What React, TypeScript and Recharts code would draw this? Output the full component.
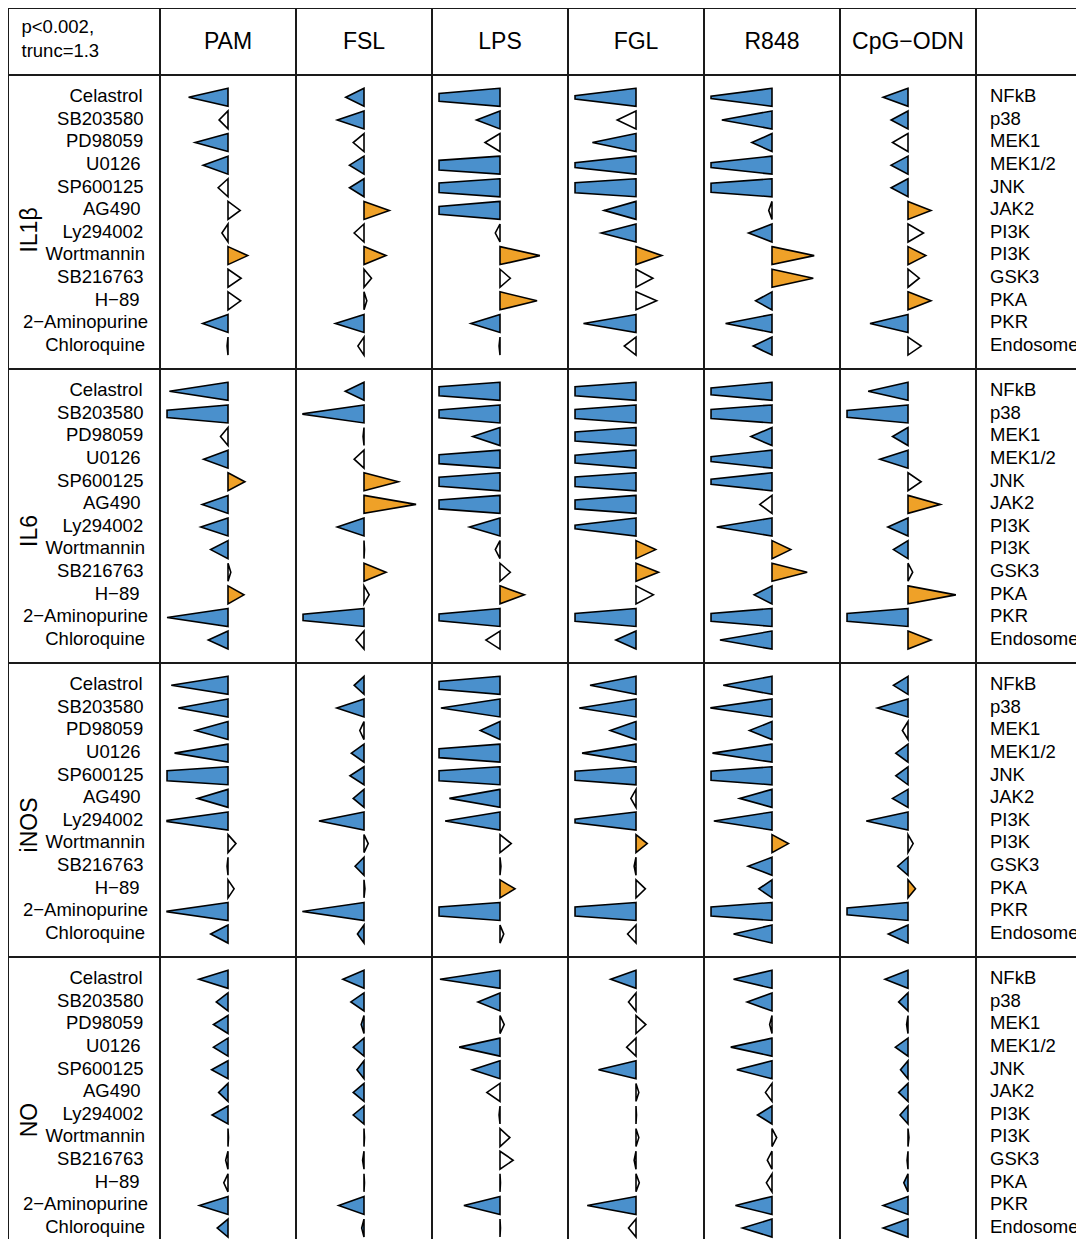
import { BarChart, Bar, XAxis, YAxis } from 'recharts'

const TRUNC = 1.3
const BLUE = '#4a90cc'
const ORANGE = '#efa128'
const LINE = '#1a1a1a'
const FONT = '"Liberation Sans", Arial, Helvetica, sans-serif'

const stimuli = ['PAM', 'FSL', 'LPS', 'FGL', 'R848', 'CpG\u2212ODN']
const readouts = ['IL1\u03b2', 'IL6', 'iNOS', 'NO']
const inhibitors = [
  'Celastrol', 'SB203580', 'PD98059', 'U0126', 'SP600125', 'AG490',
  'Ly294002', 'Wortmannin', 'SB216763', 'H\u221289', '2\u2212Aminopurine', 'Chloroquine',
]
const targets = ['NFkB', 'p38', 'MEK1', 'MEK1/2', 'JNK', 'JAK2', 'PI3K', 'PI3K', 'GSK3', 'PKA', 'PKR', 'Endosome']

// log fold change per stimulus (PAM, FSL, LPS, FGL, R848, CpG-ODN), one row per inhibitor
const il1bValues = [
  [-0.84, -0.19, -0.70, -0.53, -0.21, 0.26, -0.13, 0.42, 0.28, 0.27, -0.54, -0.02],
  [-0.39, -0.57, -0.23, -0.31, -0.31, 0.54, -0.21, 0.47, 0.16, 0.06, -0.61, -0.13],
  [-2.3, -0.50, -0.32, -2.8, -2.8, -2.3, -0.10, 0.85, 0.22, 0.79, -0.62, -0.02],
  [-1.6, -0.40, -0.93, -1.8, -3.0, -0.68, -0.74, 0.55, 0.36, 0.44, -1.12, -0.25],
  [-1.5, -1.07, -0.43, -1.8, -2.6, -0.07, -0.50, 0.90, 0.88, -0.35, -0.99, -0.40],
  [-0.53, -0.36, -0.33, -0.36, -0.36, 0.49, 0.33, 0.38, 0.24, 0.49, -0.81, 0.28],
]
const il1bSig = [
  [1, 0, 1, 1, 0, 0, 0, 1, 0, 0, 1, 0],
  [1, 1, 0, 1, 1, 1, 0, 1, 0, 0, 1, 0],
  [1, 1, 0, 1, 1, 1, 0, 1, 0, 1, 1, 0],
  [1, 0, 1, 1, 1, 1, 1, 1, 0, 0, 1, 0],
  [1, 1, 1, 1, 1, 0, 1, 1, 1, 1, 1, 1],
  [1, 1, 0, 1, 1, 1, 0, 1, 0, 1, 1, 0],
]

const il6Values = [
  [-1.25, -2.2, -0.16, -0.52, 0.36, -0.55, -0.58, -0.37, 0.06, 0.34, -1.30, -0.42],
  [-0.40, -1.35, -0.02, -0.21, 0.73, 1.11, -0.57, 0.01, 0.47, 0.11, -2.0, -0.17],
  [-2.6, -2.3, -0.58, -2.6, -2.6, -2.6, -0.65, -0.10, 0.22, 0.52, -2.1, -0.30],
  [-2.6, -2.6, -2.6, -2.3, -2.8, -2.6, -1.6, 0.42, 0.48, 0.37, -2.3, -0.43],
  [-2.1, -2.6, -0.45, -1.8, -1.8, -0.26, -1.18, 0.40, 0.75, -0.38, -2.3, -1.11],
  [-0.85, -2.1, -0.33, -0.60, 0.28, 0.69, -0.43, -0.31, 0.10, 1.02, -2.3, 0.49],
]
const il6Sig = [
  [1, 1, 0, 1, 1, 1, 1, 1, 0, 1, 1, 1],
  [1, 1, 0, 0, 1, 1, 1, 0, 1, 0, 1, 0],
  [1, 1, 1, 1, 1, 1, 1, 0, 0, 1, 1, 0],
  [1, 1, 1, 1, 1, 1, 1, 1, 1, 0, 1, 1],
  [1, 1, 1, 1, 1, 0, 1, 1, 1, 1, 1, 1],
  [1, 1, 1, 1, 0, 1, 1, 1, 0, 1, 1, 1],
]

const inosValues = [
  [-1.21, -1.06, -0.69, -1.14, -2.9, -0.65, -1.4, 0.17, -0.02, 0.13, -1.35, -0.37],
  [-0.21, -0.58, -0.09, -0.27, -0.30, -0.23, -0.96, 0.09, -0.19, 0.02, -1.32, -0.14],
  [-2.3, -1.26, -0.42, -2.6, -2.9, -1.08, -1.17, 0.24, 0.02, 0.32, -2.6, 0.08],
  [-0.98, -1.21, -0.55, -1.15, -2.6, -0.11, -1.6, 0.24, -0.04, 0.20, -2.6, -0.18],
  [-1.04, -1.33, -0.48, -1.27, -2.6, -0.69, -1.24, 0.35, -0.51, -0.28, -2.6, -0.82],
  [-0.31, -0.65, -0.12, -0.26, -0.26, -0.33, -0.89, 0.11, -0.22, 0.16, -2.1, -0.42],
]
const inosSig = [
  [1, 1, 1, 1, 1, 1, 1, 0, 0, 0, 1, 1],
  [1, 1, 0, 1, 1, 1, 1, 0, 1, 0, 1, 1],
  [1, 1, 1, 1, 1, 1, 1, 0, 0, 1, 1, 0],
  [1, 1, 1, 1, 1, 0, 1, 1, 0, 0, 1, 0],
  [1, 1, 1, 1, 1, 1, 1, 1, 1, 1, 1, 1],
  [1, 1, 0, 1, 1, 1, 1, 0, 1, 1, 1, 1],
]

const noValues = [
  [-0.62, -0.25, -0.31, -0.31, -0.35, -0.20, -0.34, 0.01, -0.05, -0.09, -0.61, -0.23],
  [-0.45, -0.28, -0.06, -0.23, -0.15, -0.23, -0.23, 0.01, -0.03, 0.01, -0.54, -0.05],
  [-1.28, -0.47, 0.09, -0.87, -0.59, -0.28, -0.02, 0.21, 0.28, 0.01, -0.77, 0.01],
  [-0.54, -0.16, 0.21, -0.20, -0.80, 0.06, 0.01, 0.06, -0.04, 0.07, -1.04, -0.16],
  [-0.82, -0.53, -0.05, -0.88, -0.75, -0.14, -0.31, 0.10, -0.10, -0.12, -0.78, -0.63],
  [-0.49, -0.20, -0.03, -0.27, -0.16, -0.20, -0.17, 0.02, -0.02, -0.09, -0.53, -0.53],
]
const noSig = [
  [1, 1, 1, 1, 1, 1, 1, 0, 0, 0, 1, 1],
  [1, 1, 1, 1, 1, 1, 1, 0, 0, 0, 1, 1],
  [1, 1, 0, 1, 1, 0, 0, 0, 0, 0, 1, 0],
  [1, 0, 0, 0, 1, 0, 0, 0, 0, 0, 1, 0],
  [1, 1, 0, 1, 1, 0, 1, 0, 0, 0, 1, 1],
  [1, 1, 0, 1, 1, 1, 1, 0, 0, 1, 1, 1],
]

const allValues = [il1bValues, il6Values, inosValues, noValues]
const allSig = [il1bSig, il6Sig, inosSig, noSig]

// layout (page pixels)
const LEFT = 8
const TOP = 8
const LABEL_W = 152
const HEAD_H = 67
const CELL_W = 136
const CELL_H = 294
const STEP = CELL_H / 13
const colX = (c: number) => LEFT + LABEL_W + CELL_W * c
const rowY = (r: number) => TOP + HEAD_H + CELL_H * r
const labelNudge = [-1, 0, -0.3, -2.9, 0, -2.9, -0.3, 1.5, 0, -4, 4.5, 1.5]
const groupNudge = [8, 15, 15, 16]

function Triangle(props: any) {
  const { x, y, width, height, payload } = props
  const v: number = payload.v
  const lo = Math.min(x, x + width)
  const hi = Math.max(x, x + width)
  const base = v < 0 ? hi : lo
  const tip = v < 0 ? lo : hi
  const cy = y + height / 2
  const h = height / 2
  const e = Math.abs(v) > TRUNC ? h * (1 - TRUNC / Math.abs(v)) : 0
  const fill = payload.sig ? (v < 0 ? BLUE : ORANGE) : '#ffffff'
  const pts = `${base},${cy - h} ${tip},${cy - e} ${tip},${cy + e} ${base},${cy + h}`
  return <polygon points={pts} fill={fill} stroke="#000" strokeWidth={1.6} />
}

function Panel({ values, sig }: { values: number[]; sig: number[] }) {
  const data = inhibitors.map((name, i) => ({
    name,
    v: values[i],
    shown: Math.max(-TRUNC, Math.min(TRUNC, values[i])),
    sig: sig[i],
  }))
  return (
    <BarChart
      layout="vertical"
      width={CELL_W}
      height={CELL_H}
      data={data}
      margin={{ top: STEP / 2, right: 0, bottom: STEP / 2, left: 0 }}
    >
      <XAxis type="number" domain={[-1.45, 1.45]} hide />
      <YAxis type="category" dataKey="name" hide />
      <Bar dataKey="shown" barSize={18} shape={(p: any) => <Triangle {...p} />} isAnimationActive={false} />
    </BarChart>
  )
}

export default function App() {
  const vLines = [LEFT, ...stimuli.map((_, c) => colX(c)), colX(stimuli.length)]
  const hLines = [TOP, ...readouts.map((_, r) => rowY(r))]
  return (
    <div style={{ position: 'relative', margin: -8, width: 1084, height: 1247, overflow: 'hidden', background: '#fff', fontFamily: FONT }}>
      {readouts.map((_, r) =>
        stimuli.map((_, c) => (
          <div key={`${r}-${c}`} style={{ position: 'absolute', left: colX(c), top: rowY(r) }}>
            <Panel values={allValues[r][c]} sig={allSig[r][c]} />
          </div>
        ))
      )}
      {vLines.map((x, i) => (
        <div key={`v${i}`} style={{ position: 'absolute', left: x - 1, top: TOP - 1, width: 2, height: 1300, background: LINE }} />
      ))}
      {hLines.map((y, i) => (
        <div key={`h${i}`} style={{ position: 'absolute', left: LEFT - 1, top: y - 1, width: 1200, height: 2, background: LINE }} />
      ))}
      <svg width={1084} height={1247} style={{ position: 'absolute', left: 0, top: 0, pointerEvents: 'none' }}>
        <g fontFamily={FONT} fill="#000">
          <text x={21.5} y={33} fontSize={18.5}>p&lt;0.002,</text>
          <text x={21.5} y={56.5} fontSize={18.5}>trunc=1.3</text>
          {stimuli.map((s, c) => (
            <text key={s} x={colX(c) + CELL_W / 2} y={49.3} fontSize={23} textAnchor="middle">{s}</text>
          ))}
          {readouts.map((g, r) => (
            <g key={g}>
              <text
                transform={`translate(37, ${rowY(r) + CELL_H / 2 + groupNudge[r]}) rotate(-90)`}
                fontSize={23}
                textAnchor="middle"
              >
                {g}
              </text>
              {inhibitors.map((name, i) => (
                <text
                  key={`l${i}`}
                  x={143.5 + labelNudge[i]}
                  y={rowY(r) + STEP * (i + 1) + 4.5}
                  fontSize={18.5}
                  textAnchor="end"
                >
                  {name}
                </text>
              ))}
              {targets.map((t, i) => (
                <text key={`t${i}`} x={990} y={rowY(r) + STEP * (i + 1) + 4.5} fontSize={18.5}>
                  {t}
                </text>
              ))}
            </g>
          ))}
        </g>
      </svg>
    </div>
  )
}
